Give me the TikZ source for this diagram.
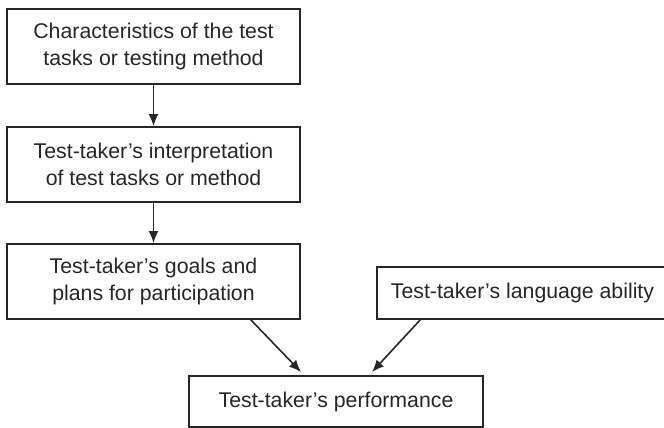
\documentclass[tikz,border=0pt]{standalone}
\usepackage{fontspec}
\setmainfont{Liberation Sans}
\usetikzlibrary{arrows.meta}
\begin{document}
\begin{tikzpicture}[x=1pt,y=1pt,
  box/.style={draw=black!85,line width=1.8pt,inner sep=0pt,align=center,text=black!85,font=\fontsize{21.3}{26.5}\selectfont},
  arr/.style={draw=black!85,line width=1.6pt,-{Latex[length=12pt,width=10pt]}}]
\useasboundingbox (0,0) rectangle (664,428);
\node[box,minimum width=293,minimum height=75] (b1) at (153.5,381.5) {Characteristics of the test\\tasks or testing method};
\node[box,minimum width=293,minimum height=75] (b2) at (153.5,263.5) {Test-taker’s interpretation\\of test tasks or method};
\node[box,minimum width=293,minimum height=75] (b3) at (153.5,146.5) {Test-taker’s goals and\\plans for participation};
\node[box,minimum width=291,minimum height=52] (b4) at (522.5,135) {Test-taker’s language ability};
\node[box,line width=2.6pt,minimum width=294,minimum height=51] (b5) at (336,26.5) {Test-taker’s performance};
\coordinate (s3) at (250,109);
\coordinate (e3) at (301,56);
\coordinate (s4) at (421,109);
\coordinate (e4) at (372,56);
\draw[arr] (b1) -- (b2);
\draw[arr] (b2) -- (b3);
\draw[arr] (s3) -- (e3);
\draw[arr] (s4) -- (e4);
\end{tikzpicture}
\end{document}
